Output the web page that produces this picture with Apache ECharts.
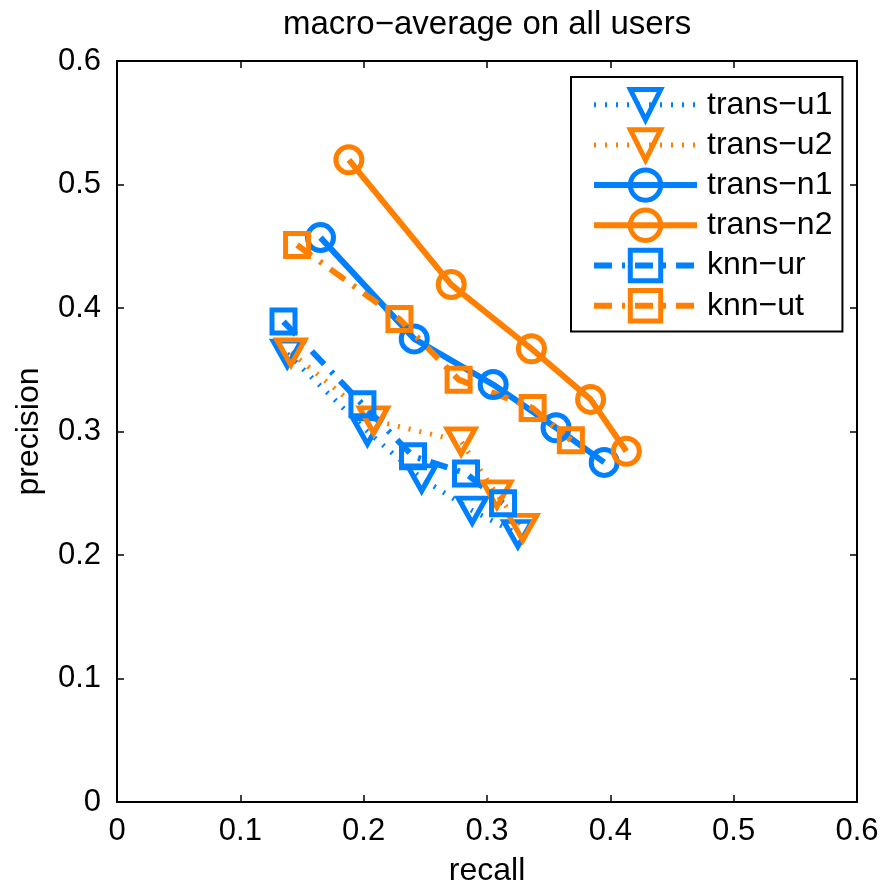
<!DOCTYPE html>
<html><head><meta charset="utf-8">
<script src="https://cdn.jsdelivr.net/npm/echarts@6/dist/echarts.min.js"></script>
<style>html,body{margin:0;padding:0;background:#fff}#c{width:883px;height:887px}</style>
</head><body><div id="c"></div>
<script>
const titleText = 'macro\u2212average on all users';
const seriesNames = ['trans\u2212u1', 'trans\u2212u2', 'trans\u2212n1', 'trans\u2212n2', 'knn\u2212ur', 'knn\u2212ut'];
const xTickLabels = ['0', '0.1', '0.2', '0.3', '0.4', '0.5', '0.6'];
const yTickLabels = ['0', '0.1', '0.2', '0.3', '0.4', '0.5', '0.6'];

const transU1Recall = [0.138, 0.203, 0.247, 0.288, 0.325];
const transU1Precision = [0.363, 0.300, 0.262, 0.236, 0.217];
const transU2Recall = [0.141, 0.208, 0.279, 0.308, 0.329];
const transU2Precision = [0.364, 0.309, 0.292, 0.249, 0.222];
const transN1Recall = [0.165, 0.241, 0.305, 0.356, 0.395];
const transN1Precision = [0.457, 0.375, 0.338, 0.303, 0.275];
const transN2Recall = [0.188, 0.271, 0.336, 0.384, 0.413];
const transN2Precision = [0.520, 0.419, 0.367, 0.326, 0.284];
const knnUrRecall = [0.135, 0.199, 0.240, 0.283, 0.313];
const knnUrPrecision = [0.389, 0.322, 0.280, 0.266, 0.242];
const knnUtRecall = [0.146, 0.229, 0.277, 0.337, 0.368];
const knnUtPrecision = [0.451, 0.391, 0.342, 0.319, 0.293];

const BLUE = '#0080ff', ORANGE = '#ff8000';
const FONT = '"Liberation Sans", Arial, Helvetica, sans-serif';
const DOT = [2, 9], DASHDOT = [18, 10, 3, 10];

const styles = [
  {color: BLUE, symbol: 'triangle', size: [28, 25], rot: 180, dash: DOT, width: 5},
  {color: ORANGE, symbol: 'triangle', size: [28, 25], rot: 180, dash: DOT, width: 5},
  {color: BLUE, symbol: 'circle', size: 26, rot: 0, dash: 'solid', width: 6},
  {color: ORANGE, symbol: 'circle', size: 26, rot: 0, dash: 'solid', width: 6},
  {color: BLUE, symbol: 'rect', size: 23, rot: 0, dash: DASHDOT, width: 6},
  {color: ORANGE, symbol: 'rect', size: 23, rot: 0, dash: DASHDOT, width: 6}
];
const xs = [transU1Recall, transU2Recall, transN1Recall, transN2Recall, knnUrRecall, knnUtRecall];
const ys = [transU1Precision, transU2Precision, transN1Precision, transN2Precision, knnUrPrecision, knnUtPrecision];

const series = seriesNames.map((name, i) => {
  const s = styles[i];
  return {
    name, type: 'line',
    data: xs[i].map((x, j) => [x, ys[i][j]]),
    symbol: s.symbol, symbolSize: s.size, symbolRotate: s.rot, showSymbol: true,
    lineStyle: {color: s.color, width: s.width, type: s.dash, cap: 'butt'},
    itemStyle: {color: 'rgba(0,0,0,0)', borderColor: s.color, borderWidth: 5},
    emphasis: {disabled: true},
    animation: false
  };
});

function tickFmt(labels) {
  return v => labels[Math.round(v * 10)];
}

const axisCommon = {
  type: 'value', min: 0, max: 0.6, interval: 0.1,
  axisLine: {show: true, onZero: false, lineStyle: {color: '#000', width: 2}},
  axisTick: {show: true, inside: true, length: 7, lineStyle: {color: '#000', width: 1.5}},
  splitLine: {show: false}
};

const chart = echarts.init(document.getElementById('c'), null, {renderer: 'canvas'});
chart.setOption({
  backgroundColor: '#fff',
  animation: false,
  title: {text: titleText, left: 278, top: 3,
    textStyle: {fontFamily: FONT, fontSize: 33, fontWeight: 'normal', color: '#000'}},
  grid: {left: 117, right: 26, top: 61, bottom: 85, containLabel: false, outerBoundsMode: 'none'},
  legend: {
    orient: 'vertical', left: 571, top: 77,
    padding: [10, 10, 8, 20],
    borderColor: '#000', borderWidth: 2, backgroundColor: '#fff',
    itemWidth: 103, itemHeight: 38, itemGap: 4.8,
    textStyle: {fontFamily: FONT, fontSize: 32, color: '#000', lineHeight: 32, padding: [0, 0, 0, 5]},
    data: seriesNames.map((n, i) => ({
      name: n,
      lineStyle: {width: styles[i].width, type: styles[i].dash, cap: 'butt', color: styles[i].color},
      itemStyle: {borderWidth: 5, borderColor: styles[i].color, color: 'rgba(0,0,0,0)'}
    })),
    selectedMode: false
  },
  xAxis: [
    Object.assign({}, axisCommon, {position: 'bottom',
      axisLabel: {fontFamily: FONT, fontSize: 31, color: '#000', margin: 14, formatter: tickFmt(xTickLabels)},
      name: 'recall', nameLocation: 'middle', nameGap: 53,
      nameTextStyle: {fontFamily: FONT, fontSize: 32, color: '#000'}}),
    Object.assign({}, axisCommon, {position: 'top', axisLabel: {show: false}})
  ],
  yAxis: [
    Object.assign({}, axisCommon, {position: 'left',
      axisLabel: {fontFamily: FONT, fontSize: 31, color: '#000', margin: 16, formatter: tickFmt(yTickLabels)},
      name: 'precision', nameLocation: 'middle', nameGap: 72, nameRotate: 90,
      nameTextStyle: {fontFamily: FONT, fontSize: 32, color: '#000'}}),
    Object.assign({}, axisCommon, {position: 'right', axisLabel: {show: false}})
  ],
  series
});
</script></body></html>
